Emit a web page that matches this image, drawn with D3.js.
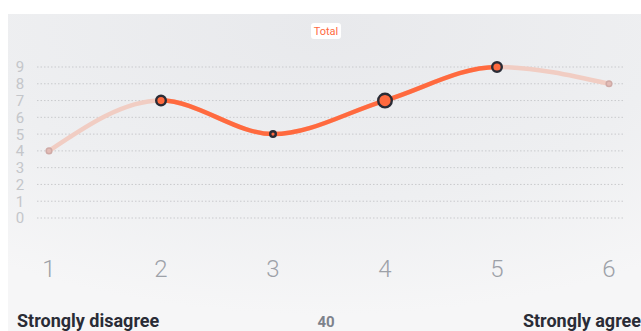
<!DOCTYPE html>
<html>
<head>
<meta charset="utf-8">
<script src="https://cdn.jsdelivr.net/npm/d3@7"></script>
<style>
  body { margin: 0; background: #fff; }
  svg { display: block; font-family: Roboto, sans-serif; }
</style>
</head>
<body>
<div id="chart"></div>
<script>
const WIDTH = 641;
const HEIGHT = 331;

// scale points and total score per point
const points = [1, 2, 3, 4, 5, 6];
const totals = [4, 7, 5, 7, 9, 8];
const yTicks = [0, 1, 2, 3, 4, 5, 6, 7, 8, 9];
// which points are active (strong line) and marker radius of each
const active = [false, true, true, true, true, false];
const markerSize = [4, 6, 4, 8, 6, 4];
const seriesName = "Total";
const leftLabel = "Strongly disagree";
const rightLabel = "Strongly agree";
const count = "40";

const ORANGE = "#ff6a3f";
const DARK = "#2a2c36";

const svg = d3.select("#chart").append("svg")
  .attr("width", WIDTH)
  .attr("height", HEIGHT);

const defs = svg.append("defs");
const bg = defs.append("radialGradient")
  .attr("id", "bg")
  .attr("cx", "0.5").attr("cy", "0.05").attr("r", "0.9");
bg.append("stop").attr("offset", "0").attr("stop-color", "#e8e9ec");
bg.append("stop").attr("offset", "0.6").attr("stop-color", "#eeeff1");
bg.append("stop").attr("offset", "1").attr("stop-color", "#f6f6f7");

svg.append("rect")
  .attr("x", 8).attr("y", 14)
  .attr("width", WIDTH - 8).attr("height", HEIGHT - 14)
  .attr("fill", "url(#bg)");

const x = d3.scalePoint()
  .domain(points)
  .range([49, 609]);

const y = d3.scaleLinear()
  .domain([0, 9])
  .range([218, 67]);

// grid lines
svg.append("g")
  .selectAll("line")
  .data(yTicks)
  .join("line")
  .attr("x1", 37).attr("x2", 625)
  .attr("y1", d => y(d)).attr("y2", d => y(d))
  .attr("stroke", "#c9cacd")
  .attr("stroke-width", 1)
  .attr("stroke-dasharray", "1.5,2");

// y tick labels
svg.append("g")
  .selectAll("text")
  .data(yTicks)
  .join("text")
  .attr("x", 20)
  .attr("y", d => y(d))
  .attr("dy", "0.36em")
  .attr("text-anchor", "middle")
  .attr("fill", "#c4c6ca")
  .style("font-size", "15px")
  .text(d => d);

// x tick labels
svg.append("g")
  .selectAll("text")
  .data(points)
  .join("text")
  .attr("x", d => x(d))
  .attr("y", 277)
  .attr("text-anchor", "middle")
  .attr("fill", "#9da1a8")
  .style("font-size", "24px")
  .style("font-weight", 300)
  .text(d => d);

const data = points.map((p, i) => ({ p, v: totals[i], on: active[i], r: markerSize[i] }));

const line = d3.line()
  .x(d => x(d.p))
  .y(d => y(d.v))
  .curve(d3.curveMonotoneX);

// faded full line
svg.append("path")
  .datum(data)
  .attr("d", line)
  .attr("fill", "none")
  .attr("stroke", "#f1cdc3")
  .attr("stroke-width", 4.5)
  .attr("stroke-linecap", "round");

// strong part, clipped to active range
const on = data.filter(d => d.on);
defs.append("clipPath").attr("id", "activeClip")
  .append("rect")
  .attr("x", x(on[0].p)).attr("y", 0)
  .attr("width", x(on[on.length - 1].p) - x(on[0].p))
  .attr("height", HEIGHT);

svg.append("path")
  .datum(data)
  .attr("d", line)
  .attr("clip-path", "url(#activeClip)")
  .attr("fill", "none")
  .attr("stroke", ORANGE)
  .attr("stroke-width", 4.5);

// markers
svg.append("g")
  .selectAll("circle")
  .data(data)
  .join("circle")
  .attr("cx", d => x(d.p))
  .attr("cy", d => y(d.v))
  .attr("r", d => d.r - 1.2)
  .attr("fill", d => d.on ? ORANGE : "#e3bcb6")
  .attr("stroke", d => d.on ? DARK : "#cfaaa6")
  .attr("stroke-width", d => d.on ? 2.4 : 1.5);

// series label
const tag = svg.append("g").attr("transform", "translate(326,31)");
tag.append("rect")
  .attr("x", -15).attr("y", -8)
  .attr("width", 30).attr("height", 16)
  .attr("rx", 3)
  .attr("fill", "#fff");
tag.append("text")
  .attr("text-anchor", "middle")
  .attr("dy", "0.36em")
  .attr("fill", ORANGE)
  .style("font-size", "11px")
  .text(seriesName);

// bottom labels
svg.append("text")
  .attr("x", 17).attr("y", 327)
  .attr("fill", DARK)
  .style("font-size", "18px")
  .style("font-weight", 700)
  .text(leftLabel);

svg.append("text")
  .attr("x", 641).attr("y", 327)
  .attr("text-anchor", "end")
  .attr("fill", DARK)
  .style("font-size", "18px")
  .style("font-weight", 700)
  .text(rightLabel);

svg.append("text")
  .attr("x", 326).attr("y", 327)
  .attr("text-anchor", "middle")
  .attr("fill", "#7d828b")
  .style("font-size", "15px")
  .style("font-weight", 700)
  .text(count);
</script>
</body>
</html>
